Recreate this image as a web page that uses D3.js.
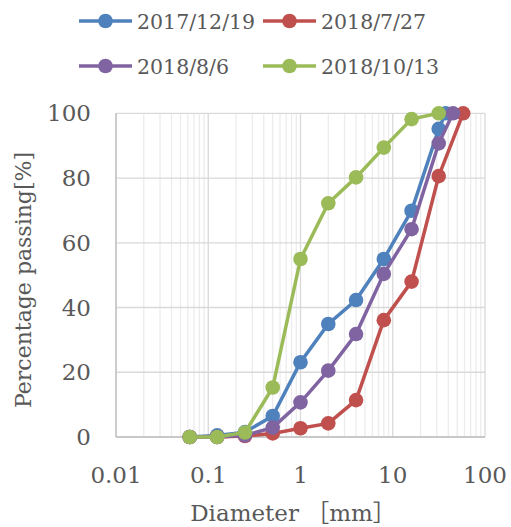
<!DOCTYPE html>
<meta charset="utf-8">
<style>
body { margin: 0; background: #fff; }
text { font-family: "DejaVu Serif", "Noto Sans CJK JP", serif; fill: #595959; }
.grid-major line { stroke: #d9d9d9; stroke-width: 1.3px; }
.grid-minor line { stroke: #ececec; stroke-width: 1.3px; }
.series path { fill: none; stroke-width: 3.5px; }
</style>
<body>
<svg width="511" height="527"></svg>
<script src="https://cdn.jsdelivr.net/npm/d3@7"></script>
<script>
// sieve sizes (mm) and percentage passing for each sampling date
var labels = ["2017/12/19", "2018/7/27", "2018/8/6", "2018/10/13"];
var colors = ["#4f81bd", "#c0504d", "#8064a2", "#9bbb59"];

var size1 = [0.063, 0.125, 0.25, 0.5, 1, 2, 4, 8, 16, 31.5, 37.5];
var pass1 = [0, 0.5, 1.5, 6.5, 23.1, 34.9, 42.3, 55.0, 69.9, 95.2, 100];

var size2 = [0.063, 0.125, 0.25, 0.5, 1, 2, 4, 8, 16, 31.5, 58];
var pass2 = [0, 0, 0.3, 1.1, 2.7, 4.2, 11.4, 36.1, 48.0, 80.6, 100];

var size3 = [0.063, 0.125, 0.25, 0.5, 1, 2, 4, 8, 16, 31.5, 45];
var pass3 = [0, 0, 0.5, 2.9, 10.7, 20.5, 31.8, 50.4, 64.2, 90.7, 100];

var size4 = [0.063, 0.125, 0.25, 0.5, 1, 2, 4, 8, 16, 31.5];
var pass4 = [0, 0, 1.4, 15.3, 55.0, 72.2, 80.2, 89.4, 98.2, 100];

var xTicks = [0.01, 0.1, 1, 10, 100];
var yTicks = [0, 20, 40, 60, 80, 100];

var svg = d3.select("svg");

var x = d3.scaleLog().domain([0.01, 100]).range([116, 485]);
var y = d3.scaleLinear().domain([0, 100]).range([437, 113.3]);

// minor vertical grid (2..9 in each decade)
var minor = [];
xTicks.slice(0, -1).forEach(function(d) {
  for (var k = 2; k <= 9; k++) minor.push(d * k);
});
svg.append("g").attr("class", "grid-minor")
  .selectAll("line").data(minor).enter().append("line")
    .attr("x1", function(d) { return x(d); }).attr("x2", function(d) { return x(d); })
    .attr("y1", y(0)).attr("y2", y(100));

var major = svg.append("g").attr("class", "grid-major");
major.selectAll("line.v").data(xTicks).enter().append("line")
    .attr("class", "v")
    .attr("x1", function(d) { return x(d); }).attr("x2", function(d) { return x(d); })
    .attr("y1", y(0)).attr("y2", y(100));
major.selectAll("line.h").data(yTicks).enter().append("line")
    .attr("class", "h")
    .attr("x1", x(0.01)).attr("x2", x(100))
    .attr("y1", function(d) { return y(d); }).attr("y2", function(d) { return y(d); });

// axes lines
svg.append("line").attr("x1", x(0.01)).attr("x2", x(0.01)).attr("y1", y(0)).attr("y2", y(100))
  .attr("stroke", "#bfbfbf").attr("stroke-width", 1.3);
svg.append("line").attr("x1", x(0.01)).attr("x2", x(100)).attr("y1", y(0)).attr("y2", y(0))
  .attr("stroke", "#bfbfbf").attr("stroke-width", 1.3);

// tick labels
svg.append("g").selectAll("text").data(yTicks).enter().append("text")
    .attr("x", 91).attr("y", function(d) { return y(d) + 8; })
    .attr("text-anchor", "end").style("font-size", "23px")
    .text(function(d) { return d; });
svg.append("g").selectAll("text").data(xTicks).enter().append("text")
    .attr("x", function(d) { return x(d); }).attr("y", 483)
    .attr("text-anchor", "middle").style("font-size", "23px")
    .text(function(d) { return d; });

// axis titles
svg.append("text").attr("x", 293).attr("y", 521).attr("text-anchor", "middle")
  .style("font-size", "23px").text("Diameter ［mm］");
svg.append("text").attr("transform", "translate(31,280) rotate(-90)")
  .attr("text-anchor", "middle").style("font-size", "22px").text("Percentage passing[%]");

// series
var sizes = [size1, size2, size3, size4];
var passes = [pass1, pass2, pass3, pass4];
var series = labels.map(function(l, i) {
  return { label: l, color: colors[i], pts: sizes[i].map(function(s, j) { return [s, passes[i][j]]; }) };
});

var line = d3.line().x(function(d) { return x(d[0]); }).y(function(d) { return y(d[1]); });

var g = svg.selectAll("g.series").data(series).enter().append("g").attr("class", "series");
g.append("path").attr("d", function(d) { return line(d.pts); })
  .attr("stroke", function(d) { return d.color; });
g.each(function(d) {
  d3.select(this).selectAll("circle").data(d.pts).enter().append("circle")
    .attr("cx", function(p) { return x(p[0]); })
    .attr("cy", function(p) { return y(p[1]); })
    .attr("r", 7.3)
    .attr("fill", d.color);
});

// legend
var legPos = [[79, 21], [263, 21], [79, 66], [263, 66]];
var leg = svg.selectAll("g.legend").data(series).enter().append("g")
  .attr("class", "legend")
  .attr("transform", function(d, i) { return "translate(" + legPos[i][0] + "," + legPos[i][1] + ")"; });
leg.append("line").attr("x1", 0).attr("x2", 53).attr("y1", 0).attr("y2", 0)
  .attr("stroke", function(d) { return d.color; }).attr("stroke-width", 3.5);
leg.append("circle").attr("cx", 26.5).attr("cy", 0).attr("r", 7.3)
  .attr("fill", function(d) { return d.color; });
leg.append("text").attr("x", 58).attr("y", 7.5).style("font-size", "20.5px")
  .text(function(d) { return d.label; });
</script>
</body>
